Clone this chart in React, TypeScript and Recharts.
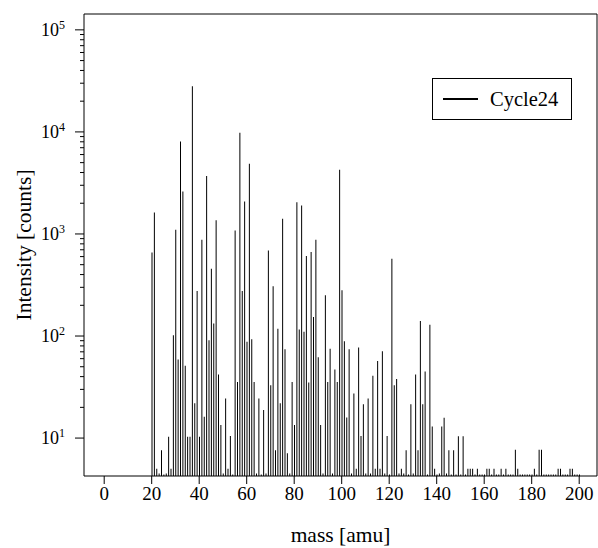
import { BarChart, Bar, XAxis, YAxis, ReferenceArea, Legend } from "recharts";

// mass spectrum, one bar per integer mass
const masses = [
  20, 21, 22, 23, 24, 25, 26, 27, 28, 29, 30, 31, 32, 33, 34, 35, 36, 37, 38, 39,
  40, 41, 42, 43, 44, 45, 46, 47, 48, 49, 50, 51, 52, 53, 54, 55, 56, 57, 58, 59,
  60, 61, 62, 63, 64, 65, 66, 67, 68, 69, 70, 71, 72, 73, 74, 75, 76, 77, 78, 79,
  80, 81, 82, 83, 84, 85, 86, 87, 88, 89, 90, 91, 92, 93, 94, 95, 96, 97, 98, 99,
  100, 101, 102, 103, 104, 105, 106, 107, 108, 109, 110, 111, 112, 113, 114, 115, 116, 117, 118, 119,
  120, 121, 122, 123, 124, 125, 126, 127, 128, 129, 130, 131, 132, 133, 134, 135, 136, 137, 138, 139,
  140, 141, 142, 143, 144, 145, 146, 147, 148, 149, 150, 151, 152, 153, 154, 155, 156, 157, 158, 159,
  160, 161, 162, 163, 164, 165, 166, 167, 168, 169, 170, 171, 172, 173, 174, 175, 176, 177, 178, 179,
  180, 181, 182, 183, 184, 185, 186, 187, 188, 189, 190, 191, 192, 193, 194, 195, 196, 197, 198, 199,
  200,
];

const cycle24 = [
  660, 1620, 5, 4.5, 7.6, 4.4, 4.5, 10.3, 5, 102, 1100, 59, 8050, 2610, 51, 10.3, 10.3, 28000, 22, 276,
  10.3, 880, 16.2, 3700, 91, 457, 133, 1360, 42, 13.4, 4.5, 24.4, 5, 10.5, 4.4, 1080, 35.5, 9800, 276, 2085,
  88, 4880, 93, 35.5, 4.5, 24.4, 4.4, 18.8, 4.5, 690, 33, 307, 7.6, 118, 22, 1410, 74, 7.1, 4.5, 35.5,
  13.4, 2050, 116, 1900, 110, 608, 35, 665, 154, 880, 62, 13.4, 4.5, 251, 35.5, 75, 4.5, 47, 35.5, 4270,
  281, 89, 15.9, 74, 4.5, 27.3, 5, 77, 10.5, 21.4, 4.5, 24.4, 4.5, 40.7, 5, 57, 5, 71, 4.5, 10.5,
  4.4, 573, 33, 38, 4.5, 5, 4.5, 7.6, 4.4, 21.4, 4.5, 42, 7.6, 140, 21.4, 45, 4.4, 129, 13, 5,
  4.4, 4.5, 13, 15.8, 4.5, 7.6, 4.4, 7.6, 4.4, 10.4, 4.4, 10.4, 4.4, 5, 5, 5, 4.4, 5, 4.4, 4.4,
  4.4, 5, 5, 4.4, 5, 4.4, 4.4, 5, 4.4, 5, 4.4, 4.4, 4.4, 7.7, 5, 4.4, 4.4, 4.4, 4.4, 4.4,
  4.4, 5, 4.4, 7.7, 7.7, 4.4, 4.4, 4.4, 4.4, 4.4, 4.4, 5, 5, 4.4, 4.4, 4.4, 5, 5, 4.4, 4.4,
  4.4,
];

const xTicks = [0, 20, 40, 60, 80, 100, 120, 140, 160, 180, 200];
const yMajor = [10, 100, 1000, 10000, 100000];
const yMinor = [
  20, 30, 40, 50, 60, 70, 80, 90,
  200, 300, 400, 500, 600, 700, 800, 900,
  2000, 3000, 4000, 5000, 6000, 7000, 8000, 9000,
  20000, 30000, 40000, 50000, 60000, 70000, 80000, 90000,
];

const X_DOMAIN: [number, number] = [-8.5, 207.5];
const Y_DOMAIN: [number, number] = [4.25, 143000];
const FONT = "'Liberation Serif', 'Times New Roman', serif";

const data = masses.map((m, i) => ({ mass: m, intensity: cycle24[i] }));

const LogTick = (props: any) => {
  const { x, y, payload } = props;
  const v = payload.value;
  const exp = Math.round(Math.log10(v));
  const major = yMajor.includes(v);
  const len = major ? 9 : 4;
  return (
    <g>
      <line x1={x - len} x2={x} y1={y} y2={y} stroke="#000" strokeWidth={1} />
      {major && (
        <text x={x - 19} y={y + 6} textAnchor="end" fontSize={18} fontFamily={FONT} fill="#000">
          10
          <tspan dy={-7} fontSize={12}>
            {exp}
          </tspan>
        </text>
      )}
    </g>
  );
};

const YTitle = (props: any) => {
  const { viewBox } = props;
  const cx = viewBox.x + 31;
  const cy = viewBox.y + viewBox.height / 2;
  return (
    <text
      x={cx}
      y={cy}
      transform={`rotate(-90, ${cx}, ${cy})`}
      textAnchor="middle"
      fontSize={21.5}
      fontFamily={FONT}
      fill="#000"
    >
      Intensity [counts]
    </text>
  );
};

const LegendBox = () => (
  <div
    style={{
      width: 140,
      height: 42,
      boxSizing: "border-box",
      border: "1px solid #000",
      background: "#fff",
      display: "flex",
      alignItems: "center",
      fontFamily: FONT,
      fontSize: 20.5,
      color: "#000",
    }}
  >
    <div style={{ width: 35, height: 0, borderTop: "2px solid #000", marginLeft: 10, marginRight: 12 }} />
    <span>Cycle24</span>
  </div>
);

export default function App() {
  return (
    <div style={{ position: "absolute", left: 0, top: 0, width: 598, height: 548, background: "#fff" }}>
      <BarChart width={598} height={548} data={data} margin={{ top: 14, right: 1, bottom: 0, left: 0 }}>
        <XAxis
          type="number"
          dataKey="mass"
          domain={X_DOMAIN}
          allowDataOverflow
          ticks={xTicks}
          interval={0}
          height={72}
          axisLine={false}
          tickSize={8}
          tickMargin={3}
          tickLine={{ stroke: "#000" }}
          tick={{ fill: "#000", fontSize: 19, fontFamily: FONT }}
          label={{ value: "mass [amu]", position: "insideBottom", offset: 6, fill: "#000", fontSize: 21.5, fontFamily: FONT }}
        />
        <YAxis
          type="number"
          scale="log"
          domain={Y_DOMAIN}
          allowDataOverflow
          ticks={[...yMajor, ...yMinor]}
          interval={0}
          width={84}
          axisLine={false}
          tickLine={false}
          tickSize={0}
          tickMargin={0}
          tick={<LogTick />}
          label={<YTitle />}
        />
        <ReferenceArea
          x1={X_DOMAIN[0]}
          x2={X_DOMAIN[1]}
          y1={Y_DOMAIN[0]}
          y2={Y_DOMAIN[1]}
          fill="none"
          stroke="#000"
          strokeWidth={1}
          ifOverflow="visible"
        />
        <Bar dataKey="intensity" fill="#000" barSize={1} isAnimationActive={false} />
        <Legend
          layout="horizontal"
          verticalAlign="middle"
          align="center"
          wrapperStyle={{ position: "absolute", top: 78, left: 432, width: 140 }}
          content={<LegendBox />}
        />
      </BarChart>
    </div>
  );
}
